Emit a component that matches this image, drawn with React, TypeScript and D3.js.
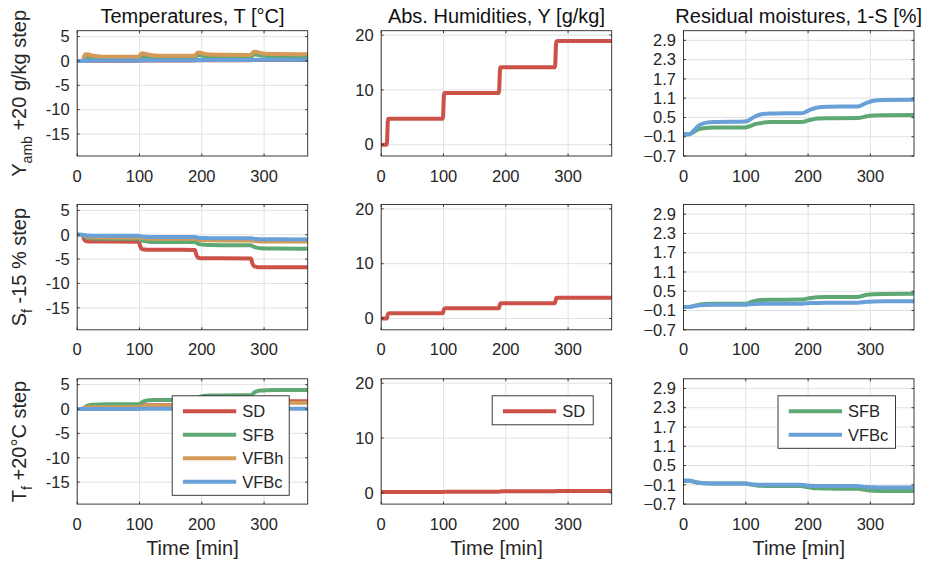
import React from 'react';
import * as d3 from 'd3';

// ---------- data ----------
const TIME = [0, 9, 11, 14, 18, 25, 35, 50, 99, 101, 104, 108, 115, 125, 140, 189, 191, 194, 198, 205, 215, 230, 279, 281, 284, 288, 295, 305, 320, 370];

const SERIES_NAMES = ['SD', 'SFB', 'VFBh', 'VFBc'];
const SERIES_COLORS = ['#cc5249', '#5ea873', '#d59a58', '#6aa0d8'];

const COL_TITLES = ['Temperatures, T [°C]', 'Abs. Humidities, Y [g/kg]', 'Residual moistures, 1-S [%]'];
const ROW_MAIN = ['Y', 'S', 'T'];
const ROW_SUB = ['amb', 'f', 'f'];
const ROW_REST = [' +20 g/kg step', ' -15 % step', ' +20°C step'];
const X_LABEL = 'Time [min]';

const X_DOMAIN = [0, 370];
const X_TICKS = [0, 100, 200, 300];
const T_DOMAIN = [-19.5, 6.2];
const T_TICKS = [-15, -10, -5, 0, 5];
const Y_DOMAIN = [-2.06, 20.8];
const Y_TICKS = [0, 10, 20];
const S_DOMAIN = [-0.7, 3.2];
const S_TICKS = [-0.7, -0.1, 0.5, 1.1, 1.7, 2.3, 2.9];

// Row 1: Y_amb +20 g/kg step
const T_YAMB_SD = [0, 0, 0.03, 0.05, 0.05, 0.05, 0.05, 0.05, 0.05, 0.07, 0.09, 0.1, 0.1, 0.1, 0.1, 0.1, 0.12, 0.14, 0.15, 0.15, 0.15, 0.15, 0.15, 0.17, 0.19, 0.2, 0.2, 0.2, 0.2, 0.2];
const T_YAMB_SFB = [0, 0, 0.3, 0.6, 0.6, 0.5, 0.45, 0.42, 0.42, 0.7, 0.95, 0.9, 0.75, 0.68, 0.65, 0.64, 0.95, 1.2, 1.15, 0.95, 0.85, 0.82, 0.8, 1.1, 1.35, 1.3, 1.1, 1.0, 0.97, 0.95];
const T_YAMB_VFBH = [0, 0, 0.9, 1.35, 1.3, 1.05, 0.92, 0.87, 0.85, 1.2, 1.55, 1.5, 1.28, 1.12, 1.07, 1.05, 1.4, 1.72, 1.68, 1.45, 1.3, 1.25, 1.22, 1.55, 1.88, 1.82, 1.6, 1.45, 1.4, 1.38];
const T_YAMB_VFBC = [0, 0, 0.04, 0.06, 0.07, 0.07, 0.07, 0.07, 0.07, 0.09, 0.11, 0.12, 0.12, 0.12, 0.12, 0.12, 0.14, 0.16, 0.17, 0.17, 0.17, 0.17, 0.17, 0.19, 0.21, 0.22, 0.22, 0.22, 0.22, 0.22];
const Y_YAMB_SD = [0, 0, 4.7, 4.75, 4.75, 4.75, 4.75, 4.75, 4.75, 9.4, 9.45, 9.45, 9.45, 9.45, 9.45, 9.45, 14.1, 14.15, 14.15, 14.15, 14.15, 14.15, 14.15, 18.85, 18.9, 18.9, 18.9, 18.9, 18.9, 18.9];
const S_YAMB_SFB = [-0.02, -0.02, -0.01, 0.02, 0.07, 0.14, 0.17, 0.185, 0.19, 0.195, 0.21, 0.24, 0.29, 0.33, 0.355, 0.36, 0.365, 0.37, 0.4, 0.43, 0.465, 0.478, 0.48, 0.485, 0.49, 0.51, 0.54, 0.56, 0.57, 0.575];
const S_YAMB_VFBC = [-0.02, -0.02, -0.01, 0.04, 0.12, 0.25, 0.33, 0.36, 0.375, 0.38, 0.4, 0.45, 0.53, 0.6, 0.625, 0.63, 0.635, 0.65, 0.69, 0.75, 0.81, 0.835, 0.84, 0.845, 0.86, 0.9, 0.96, 1.02, 1.045, 1.05];

// Row 2: S_f -15 % step
const T_SF_SD = [0, -0.1, -0.9, -1.3, -1.38, -1.4, -1.4, -1.4, -1.42, -2.3, -2.95, -3.05, -3.1, -3.1, -3.1, -3.12, -4.0, -4.7, -4.82, -4.85, -4.85, -4.85, -4.87, -5.8, -6.45, -6.6, -6.65, -6.65, -6.65, -6.65];
const T_SF_SFB = [0, -0.05, -0.2, -0.45, -0.62, -0.75, -0.8, -0.82, -0.83, -0.95, -1.15, -1.3, -1.42, -1.48, -1.5, -1.5, -1.62, -1.82, -1.97, -2.08, -2.13, -2.15, -2.16, -2.3, -2.5, -2.65, -2.77, -2.83, -2.85, -2.87];
const T_SF_VFBH = [0, -0.05, -0.15, -0.3, -0.42, -0.5, -0.54, -0.55, -0.56, -0.62, -0.7, -0.76, -0.8, -0.82, -0.82, -0.83, -0.9, -1.0, -1.08, -1.13, -1.15, -1.16, -1.17, -1.22, -1.3, -1.35, -1.38, -1.4, -1.4, -1.41];
const T_SF_VFBC = [0, -0.02, -0.06, -0.12, -0.17, -0.2, -0.22, -0.22, -0.23, -0.28, -0.36, -0.42, -0.46, -0.48, -0.48, -0.49, -0.54, -0.61, -0.66, -0.69, -0.7, -0.7, -0.71, -0.77, -0.85, -0.9, -0.93, -0.95, -0.95, -0.96];
const Y_SF_SD = [0, 0, 0.9, 0.95, 0.95, 0.95, 0.95, 0.95, 0.95, 1.8, 1.85, 1.85, 1.85, 1.85, 1.85, 1.85, 2.75, 2.8, 2.8, 2.8, 2.8, 2.8, 2.8, 3.75, 3.8, 3.8, 3.8, 3.8, 3.8, 3.8];
const S_SF_SFB = [0.01, 0.01, 0.015, 0.03, 0.05, 0.08, 0.1, 0.108, 0.11, 0.115, 0.13, 0.16, 0.2, 0.23, 0.238, 0.24, 0.245, 0.255, 0.27, 0.29, 0.31, 0.318, 0.32, 0.325, 0.34, 0.36, 0.39, 0.41, 0.418, 0.42];
const S_SF_VFBC = [0.01, 0.01, 0.013, 0.025, 0.04, 0.06, 0.072, 0.078, 0.08, 0.082, 0.088, 0.095, 0.103, 0.108, 0.11, 0.11, 0.112, 0.118, 0.125, 0.132, 0.137, 0.14, 0.14, 0.143, 0.15, 0.16, 0.172, 0.183, 0.188, 0.19];

// Row 3: T_f +20°C step
const T_TF_SD = [0, 0, 0.2, 0.35, 0.4, 0.4, 0.4, 0.4, 0.4, 0.6, 0.75, 0.8, 0.8, 0.8, 0.8, 0.8, 1.0, 1.15, 1.2, 1.2, 1.2, 1.2, 1.2, 1.4, 1.55, 1.6, 1.6, 1.6, 1.6, 1.6];
const T_TF_SFB = [0, 0.02, 0.2, 0.5, 0.75, 0.9, 0.95, 0.96, 0.97, 1.1, 1.35, 1.6, 1.78, 1.84, 1.85, 1.86, 2.0, 2.3, 2.55, 2.72, 2.78, 2.8, 2.82, 3.0, 3.35, 3.62, 3.8, 3.87, 3.9, 3.92];
const T_TF_VFBH = [0, 0, 0.12, 0.25, 0.32, 0.35, 0.35, 0.35, 0.35, 0.45, 0.58, 0.65, 0.7, 0.7, 0.7, 0.7, 0.8, 0.92, 0.98, 1.0, 1.0, 1.0, 1.0, 1.1, 1.22, 1.28, 1.3, 1.3, 1.3, 1.3];
const T_TF_VFBC = [0, 0, 0.01, 0.02, 0.02, 0.02, 0.02, 0.02, 0.02, 0.03, 0.04, 0.04, 0.04, 0.04, 0.04, 0.04, 0.05, 0.06, 0.06, 0.06, 0.06, 0.06, 0.06, 0.07, 0.08, 0.08, 0.08, 0.08, 0.08, 0.08];
const Y_TF_SD = [0.15, 0.15, 0.15, 0.15, 0.15, 0.15, 0.15, 0.15, 0.15, 0.17, 0.19, 0.2, 0.2, 0.2, 0.2, 0.2, 0.24, 0.27, 0.28, 0.28, 0.28, 0.28, 0.28, 0.32, 0.34, 0.35, 0.35, 0.35, 0.35, 0.35];
const S_TF_SFB = [0.03, 0.03, 0.025, 0.01, -0.01, -0.035, -0.05, -0.058, -0.06, -0.065, -0.075, -0.09, -0.11, -0.13, -0.138, -0.14, -0.145, -0.155, -0.17, -0.19, -0.21, -0.218, -0.22, -0.225, -0.235, -0.25, -0.27, -0.285, -0.29, -0.29];
const S_TF_VFBC = [0.03, 0.03, 0.025, 0.01, -0.01, -0.035, -0.05, -0.058, -0.06, -0.062, -0.068, -0.078, -0.09, -0.098, -0.1, -0.1, -0.102, -0.108, -0.118, -0.13, -0.137, -0.14, -0.14, -0.142, -0.148, -0.158, -0.17, -0.178, -0.18, -0.18];

// panel contents: [seriesIndex, values]
const PANEL_SERIES: [number, number[]][][][] = [
  [
    [[0, T_YAMB_SD], [1, T_YAMB_SFB], [2, T_YAMB_VFBH], [3, T_YAMB_VFBC]],
    [[0, Y_YAMB_SD]],
    [[1, S_YAMB_SFB], [3, S_YAMB_VFBC]],
  ],
  [
    [[0, T_SF_SD], [1, T_SF_SFB], [2, T_SF_VFBH], [3, T_SF_VFBC]],
    [[0, Y_SF_SD]],
    [[1, S_SF_SFB], [3, S_SF_VFBC]],
  ],
  [
    [[0, T_TF_SD], [1, T_TF_SFB], [2, T_TF_VFBH], [3, T_TF_VFBC]],
    [[0, Y_TF_SD]],
    [[1, S_TF_SFB], [3, S_TF_VFBC]],
  ],
];

const LEGENDS: (number[] | null)[] = [[0, 1, 2, 3], [0], [1, 3]];

// ---------- layout ----------
const W = 925;
const H = 564;
const COL_LEFT = [77.2, 381.2, 683.5];
const PW = 230.5;
const ROW_TOP = [30.7, 204.5, 378.8];
const PH = 125.3;
const FONT = '"Liberation Sans", Arial, Helvetica, sans-serif';
const AX = '#262626';
const GRID = '#e2e2e2';
const LEGEND_W = [117, 101, 117.5];

const yDomains = [T_DOMAIN, Y_DOMAIN, S_DOMAIN];
const yTicks = [T_TICKS, Y_TICKS, S_TICKS];
const yFmt = [(v: number) => String(v), (v: number) => String(v), (v: number) => d3.format('.1f')(v)];

function Panel({ row, col }: { row: number; col: number }) {
  const x0 = COL_LEFT[col];
  const y0 = ROW_TOP[row];
  const xs = d3.scaleLinear().domain(X_DOMAIN).range([x0, x0 + PW]);
  const ys = d3.scaleLinear().domain(yDomains[col]).range([y0 + PH, y0]);
  const line = d3
    .line<number>()
    .x((_, i) => xs(TIME[i]))
    .y((v) => ys(v))
    .curve(d3.curveMonotoneX);
  const tl = 2.5;
  const legend = row === 2 ? LEGENDS[col] : null;
  const lw = LEGEND_W[col];
  const lx = x0 + PW - 18.5 - lw;
  const ly = y0 + 17;
  const rowH = 23.5;
  return (
    <g>
      <rect x={x0} y={y0} width={PW} height={PH} fill="#fff" />
      {X_TICKS.map((t) => (
        <line key={'gx' + t} x1={xs(t)} x2={xs(t)} y1={y0} y2={y0 + PH} stroke={GRID} strokeWidth={1} />
      ))}
      {yTicks[col].map((t) => (
        <line key={'gy' + t} x1={x0} x2={x0 + PW} y1={ys(t)} y2={ys(t)} stroke={GRID} strokeWidth={1} />
      ))}
      {PANEL_SERIES[row][col].map(([si, vals]) => (
        <path key={si} d={line(vals) || ''} fill="none" stroke={SERIES_COLORS[si]} strokeWidth={4} strokeLinejoin="round" />
      ))}
      <rect x={x0} y={y0} width={PW} height={PH} fill="none" stroke={AX} strokeWidth={0.9} />
      {X_TICKS.map((t) => (
        <g key={'tx' + t}>
          <line x1={xs(t)} x2={xs(t)} y1={y0 + PH} y2={y0 + PH - tl} stroke={AX} strokeWidth={0.9} />
          <line x1={xs(t)} x2={xs(t)} y1={y0} y2={y0 + tl} stroke={AX} strokeWidth={0.9} />
          <text x={xs(t)} y={y0 + PH + 25.5} textAnchor="middle" fontSize={16.5} fill={AX} fontFamily={FONT}>
            {t}
          </text>
        </g>
      ))}
      {yTicks[col].map((t) => (
        <g key={'ty' + t}>
          <line x1={x0} x2={x0 + tl} y1={ys(t)} y2={ys(t)} stroke={AX} strokeWidth={0.9} />
          <line x1={x0 + PW} x2={x0 + PW - tl} y1={ys(t)} y2={ys(t)} stroke={AX} strokeWidth={0.9} />
          <text x={x0 - 7.5} y={ys(t)} dy="0.35em" textAnchor="end" fontSize={16.5} fill={AX} fontFamily={FONT}>
            {yFmt[col](t)}
          </text>
        </g>
      ))}
      {legend && (
        <g>
          <rect x={lx} y={ly} width={lw} height={legend.length * rowH + 5.5} fill="#fff" stroke={AX} strokeWidth={0.9} />
          {legend.map((si, k) => (
            <g key={si}>
              <line
                x1={lx + 10.7}
                x2={lx + 64}
                y1={ly + 15.5 + k * rowH}
                y2={ly + 15.5 + k * rowH}
                stroke={SERIES_COLORS[si]}
                strokeWidth={4}
              />
              <text x={lx + 70} y={ly + 15.5 + k * rowH} dy="0.36em" fontSize={16.5} fill={AX} fontFamily={FONT}>
                {SERIES_NAMES[si]}
              </text>
            </g>
          ))}
        </g>
      )}
    </g>
  );
}

export default function App() {
  const rows = [0, 1, 2];
  const cols = [0, 1, 2];
  return (
    <svg width={W} height={H} style={{ display: 'block', position: 'absolute', left: 0, top: 0, background: '#fff' }}>
      <rect x={0} y={0} width={W} height={H} fill="#fff" />
      {rows.map((r) => cols.map((c) => <Panel key={r + '-' + c} row={r} col={c} />))}
      {cols.map((c) => (
        <text key={'t' + c} x={COL_LEFT[c] + PW / 2} y={23} textAnchor="middle" fontSize={20} fill="#111" fontFamily={FONT}>
          {COL_TITLES[c]}
        </text>
      ))}
      {cols.map((c) => (
        <text key={'xl' + c} x={COL_LEFT[c] + PW / 2} y={555} textAnchor="middle" fontSize={20} fill={AX} fontFamily={FONT}>
          {X_LABEL}
        </text>
      ))}
      {rows.map((r) => (
        <text
          key={'yl' + r}
          transform={`translate(25.5, ${ROW_TOP[r] + PH / 2}) rotate(-90)`}
          textAnchor="middle"
          fontSize={20}
          fill={AX}
          fontFamily={FONT}
        >
          {ROW_MAIN[r]}
          <tspan fontSize={14} dy={6}>
            {ROW_SUB[r]}
          </tspan>
          <tspan dy={-6}>{ROW_REST[r]}</tspan>
        </text>
      ))}
    </svg>
  );
}
